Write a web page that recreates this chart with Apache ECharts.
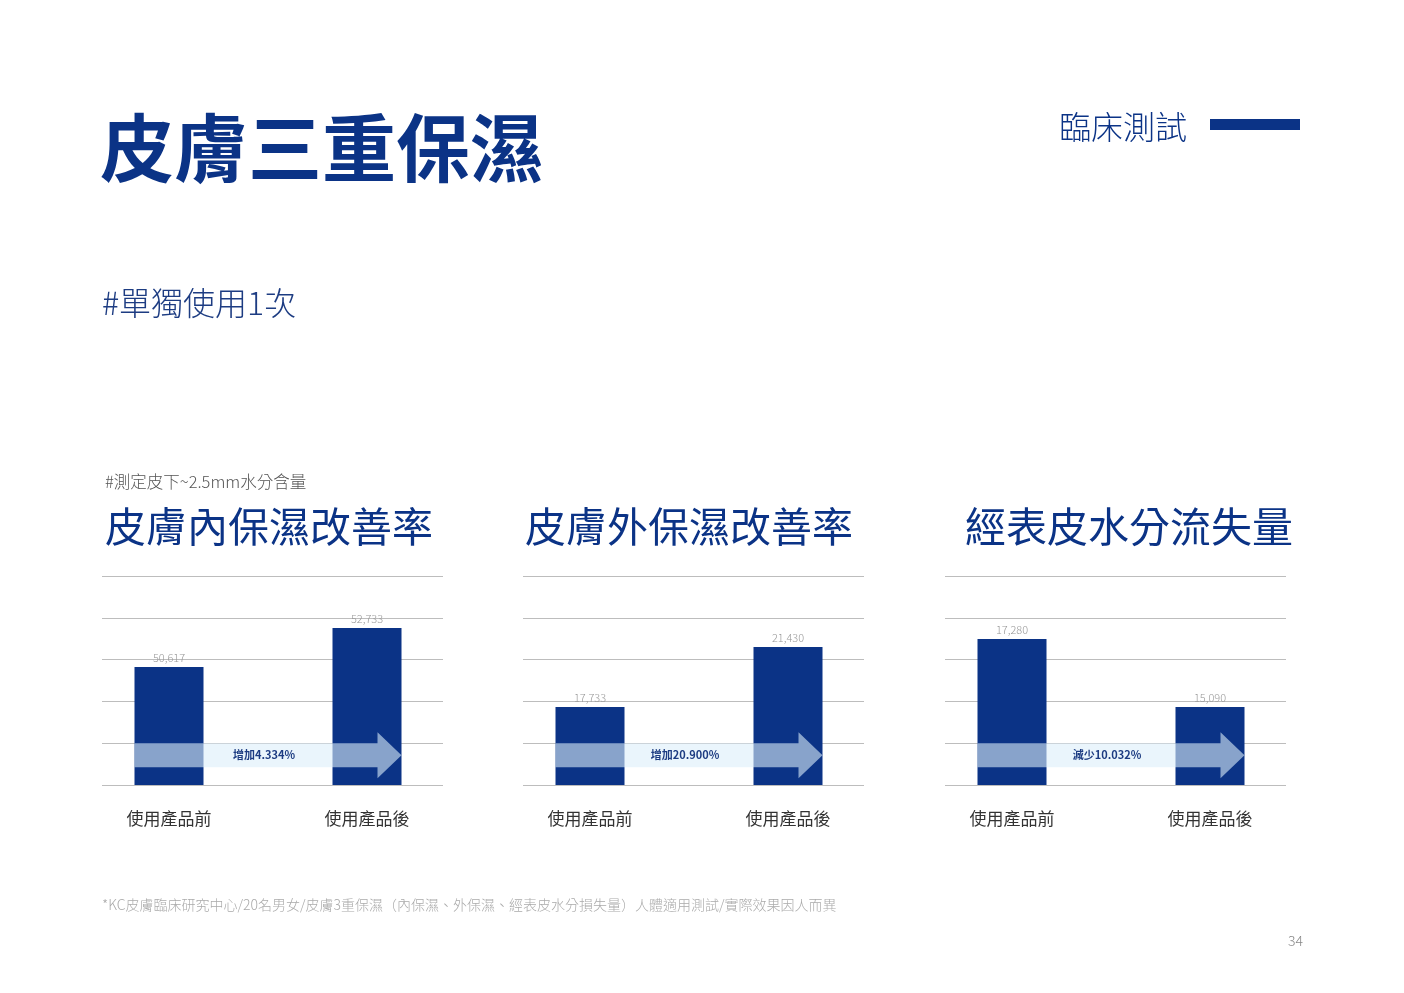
<!DOCTYPE html>
<html>
<head>
<meta charset="utf-8">
<title>皮膚三重保濕</title>
<script src="https://cdn.jsdelivr.net/npm/echarts@6/dist/echarts.min.js"></script>
<style>
  html, body { margin: 0; padding: 0; background: #fff; }
  #main { width: 1404px; height: 993px; }
</style>
</head>
<body>
<div id="main"></div>
<script>
// 資料
var categories = ['使用產品前', '使用產品後'];
var chartTitles = ['皮膚內保濕改善率', '皮膚外保濕改善率', '經表皮水分流失量'];
var innerValues = [50617, 52733];
var outerValues = [17733, 21430];
var tewlValues = [17280, 15090];
var changeLabels = ['增加4.334%', '增加20.900%', '減少10.032%'];
// 各圖 y 軸範圍 (原圖為截斷座標)
var axisMin = [44214, 12928, 12578];
var axisMax = [55555, 25805, 19309];

var seriesValues = [innerValues, outerValues, tewlValues];
var NAVY = '#0b3386';
var FONT = '"Noto Sans CJK TC", "Noto Sans CJK SC", sans-serif';
var gridLefts = [102, 523, 945];
var titleLefts = [105, 525, 965];
var GRID_W = 341, GRID_TOP = 576, GRID_BOTTOM = 993 - 785;
var BAR_W = 69;

function fmt(v) {
	return String(v).replace(/\B(?=(\d{3})+(?!\d))/g, ',');
}

var grids = [], xAxes = [], yAxes = [], series = [];
for (var i = 0; i < 3; i++) {
	var gl = gridLefts[i];
	// 格線用
	grids.push({left: gl, top: GRID_TOP, width: GRID_W, bottom: GRID_BOTTOM});
	xAxes.push({type: 'value', gridIndex: 2 * i, show: false, min: 0, max: 1});
	yAxes.push({
		type: 'value', gridIndex: 2 * i, min: 0, max: 5, interval: 1,
		axisLine: {show: false}, axisTick: {show: false}, axisLabel: {show: false},
		splitLine: {show: true, lineStyle: {color: '#bdbdbd', width: 1}}
	});
	// 長條用
	grids.push({left: gl - 32, top: GRID_TOP, width: 396, bottom: GRID_BOTTOM});
	xAxes.push({
		type: 'category', gridIndex: 2 * i + 1, data: categories,
		axisLine: {show: false}, axisTick: {show: false},
		axisLabel: {color: '#333', fontSize: 17, fontFamily: FONT, margin: 25}
	});
	yAxes.push({type: 'value', gridIndex: 2 * i + 1, show: false, min: axisMin[i], max: axisMax[i]});
	series.push({
		type: 'bar', xAxisIndex: 2 * i + 1, yAxisIndex: 2 * i + 1,
		data: seriesValues[i], barWidth: BAR_W,
		itemStyle: {color: NAVY},
		label: {
			show: true, position: 'top', distance: 4,
			color: '#999', fontSize: 11, fontFamily: FONT, fontWeight: 300,
			formatter: function (p) { return fmt(p.value); }
		},
		z: 2
	});
}

var texts = [
	{type: 'text', left: 100, top: 111, style: {text: '皮膚三重保濕', fill: NAVY, font: 'bold 74px ' + FONT}},
	{type: 'text', left: 1059, top: 111, style: {text: '臨床測試', fill: NAVY, font: '300 32px ' + FONT}},
	{type: 'rect', shape: {x: 1210, y: 119, width: 90, height: 11}, style: {fill: NAVY}},
	{type: 'text', left: 102, top: 287, style: {text: '#單獨使用1次', fill: '#1d3c82', font: '300 32px ' + FONT}},
	{type: 'text', left: 105, top: 473, style: {text: '#測定皮下~2.5mm水分含量', fill: '#555', font: '300 16.5px ' + FONT}},
	{type: 'text', left: 102, top: 898, style: {text: '*KC皮膚臨床研究中心/20名男女/皮膚3重保濕（內保濕、外保濕、經表皮水分損失量）人體適用測試/實際效果因人而異', fill: '#aaa', font: '300 14px ' + FONT}},
	{type: 'text', left: 1288, top: 934, style: {text: '34', fill: '#888', font: '300 14px ' + FONT}}
];
for (var j = 0; j < 3; j++) {
	texts.push({type: 'text', left: titleLefts[j], top: 506, style: {text: chartTitles[j], fill: NAVY, font: '41px ' + FONT}});
}

var chart = echarts.init(document.getElementById('main'));
chart.setOption({
	backgroundColor: '#fff',
	animation: false,
	grid: grids,
	xAxis: xAxes,
	yAxis: yAxes,
	series: series,
	graphic: texts
});

// 箭頭:依座標換算位置
var arrows = [];
for (var k = 0; k < 3; k++) {
	var c1 = chart.convertToPixel({xAxisIndex: 2 * k + 1, yAxisIndex: 2 * k + 1}, [categories[0], axisMin[k]]);
	var c2 = chart.convertToPixel({xAxisIndex: 2 * k + 1, yAxisIndex: 2 * k + 1}, [categories[1], axisMin[k]]);
	var yLine = chart.convertToPixel({xAxisIndex: 2 * k, yAxisIndex: 2 * k}, [0, 1])[1];
	var x0 = c1[0] - BAR_W / 2, x2 = c2[0] + BAR_W / 2, x1 = x2 - 24;
	var yt = yLine, yb = yLine + 24, ym = yLine + 12;
	arrows.push({
		type: 'polygon', z: 10,
		shape: {points: [[x0, yt], [x1, yt], [x1, ym - 23], [x2, ym], [x1, ym + 23], [x1, yb], [x0, yb]]},
		style: {fill: 'rgba(220,238,250,0.6)'}
	});
	arrows.push({
		type: 'text', z: 11,
		x: (c1[0] + BAR_W / 2 + c2[0] - BAR_W / 2) / 2 - 4, y: ym,
		style: {text: changeLabels[k], fill: '#1d3c82', font: 'bold 11px ' + FONT, align: 'center', verticalAlign: 'middle'}
	});
}
chart.setOption({graphic: texts.concat(arrows)});
</script>
</body>
</html>
